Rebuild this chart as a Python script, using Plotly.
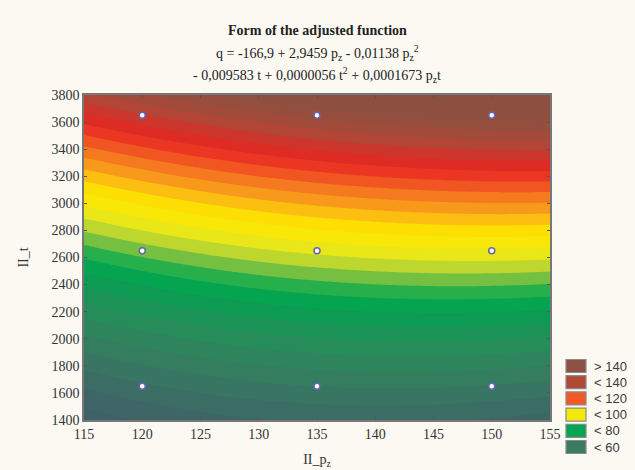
import numpy as np
import plotly.graph_objects as go

# Fitted function coefficients: q = b0 + b1*pz + b2*pz^2 + b3*t + b4*t^2 + b5*pz*t
coef = [-166.9, 2.9459, -0.01138, -0.009583, 0.0000056, 0.0001673]

# Axis extents of the fitted surface
pz_range = [115, 155]
t_range = [1400, 3800]

# Experimental design points (white dots)
pts_pz = [120, 135, 150, 120, 135, 150, 120, 135, 150]
pts_t = [3650, 3650, 3650, 2650, 2650, 2650, 1650, 1650, 1650]

# Legend classes
legend_labels = ["> 140", "< 140", "< 120", "< 100", "< 80", "< 60"]
legend_colors = ["#8c5243", "#b04a35", "#f15a24", "#f3ea0c", "#00a651", "#3c7a62"]

pz = np.linspace(pz_range[0], pz_range[1], 161)
t = np.linspace(t_range[0], t_range[1], 241)
PZ, T = np.meshgrid(pz, t)
Q = (coef[0] + coef[1] * PZ + coef[2] * PZ ** 2 + coef[3] * T
     + coef[4] * T ** 2 + coef[5] * PZ * T)

zmin, zmax = 40, 160
anchors = [
    (40, "#405868"), (48, "#3f6268"), (55, "#3c6f65"), (61, "#367b60"),
    (67, "#2c865c"), (73, "#1e9158"), (79, "#0a9d53"), (84, "#00a84f"),
    (88, "#4db548"), (92, "#9ccb3a"), (96, "#dde324"), (100, "#f6ea0c"),
    (105, "#fde600"), (109, "#fcc80e"), (113, "#f9a11a"), (118, "#f4791f"),
    (123, "#ef4c23"), (128, "#e62822"), (133, "#d2322a"), (138, "#b24535"),
    (144, "#9a4e3e"), (150, "#8e5040"), (160, "#8a5040"),
]
colorscale = [[(v - zmin) / (zmax - zmin), c] for v, c in anchors]

fig = go.Figure()
fig.add_trace(go.Contour(
    x=pz, y=t, z=Q,
    zmin=zmin, zmax=zmax, zauto=False,
    colorscale=colorscale,
    contours=dict(start=40, end=160, size=4, coloring="fill", showlines=False),
    line=dict(width=0),
    showscale=False, hoverinfo="skip",
))
fig.add_trace(go.Scatter(
    x=pts_pz, y=pts_t, mode="markers",
    marker=dict(symbol="circle", size=6, color="white",
                line=dict(color="#6464b4", width=1.5)),
    showlegend=False, hoverinfo="skip",
))

# plot area in pixels
L, R, TOP, BOT = 84, 550, 95, 420
W, H = 635, 470
pw, ph = R - L, BOT - TOP

def px_x(x):
    return (x - L) / pw

def px_y(y):
    return (BOT - y) / ph

shapes = []
annotations = []
leg_y0 = 366
leg_dy = 16.2
for i, (lab, col) in enumerate(zip(legend_labels, legend_colors)):
    cy = leg_y0 + i * leg_dy
    shapes.append(dict(type="rect", xref="paper", yref="paper",
                       x0=px_x(566), x1=px_x(586),
                       y0=px_y(cy + 6.5), y1=px_y(cy - 6.5),
                       fillcolor=col, line=dict(color="#8a8a8a", width=1.2)))
    annotations.append(dict(xref="paper", yref="paper", x=px_x(592), y=px_y(cy),
                            text=lab, showarrow=False, xanchor="left", yanchor="middle",
                            font=dict(family="Liberation Sans, Arial", size=13, color="#3a3a3a")))

title_font = dict(family="Liberation Serif, Times New Roman", size=14, color="#222")
annotations.append(dict(xref="paper", yref="paper", x=0.5, y=px_y(30),
                        text="<b>Form of the adjusted function</b>", showarrow=False,
                        xanchor="center", yanchor="middle", font=title_font))
annotations.append(dict(xref="paper", yref="paper", x=0.5, y=px_y(53),
                        text="q = -166,9 + 2,9459 p<sub>z</sub> - 0,01138 p<sub>z</sub><sup>2</sup>",
                        showarrow=False, xanchor="center", yanchor="middle", font=title_font))
annotations.append(dict(xref="paper", yref="paper", x=0.5, y=px_y(75),
                        text="- 0,009583 t + 0,0000056 t<sup>2</sup> + 0,0001673 p<sub>z</sub>t",
                        showarrow=False, xanchor="center", yanchor="middle", font=title_font))

axis_font = dict(family="Liberation Serif, Times New Roman", size=14, color="#333")
fig.update_layout(
    width=W, height=H,
    margin=dict(l=L, r=W - R, t=TOP, b=H - BOT, pad=0, autoexpand=False),
    paper_bgcolor="#fbf9f2", plot_bgcolor="#fbf9f2",
    showlegend=False,
    shapes=shapes, annotations=annotations,
    xaxis=dict(range=pz_range, dtick=5, tick0=115, ticks="inside", ticklen=3,
               tickcolor="#555", showline=True, linecolor="#777", linewidth=1.5,
               mirror="ticks", showgrid=False, zeroline=False, automargin=False,
               tickfont=axis_font,
               title=dict(text="II_p<sub>z</sub>", font=axis_font, standoff=14)),
    yaxis=dict(range=t_range, dtick=200, tick0=1400, ticks="inside", ticklen=3,
               tickcolor="#555", showline=True, linecolor="#777", linewidth=1.5,
               mirror="ticks", showgrid=False, zeroline=False, automargin=False,
               tickfont=axis_font,
               title=dict(text="II_t", font=axis_font, standoff=20)),
)

fig.write_html("out.html")
